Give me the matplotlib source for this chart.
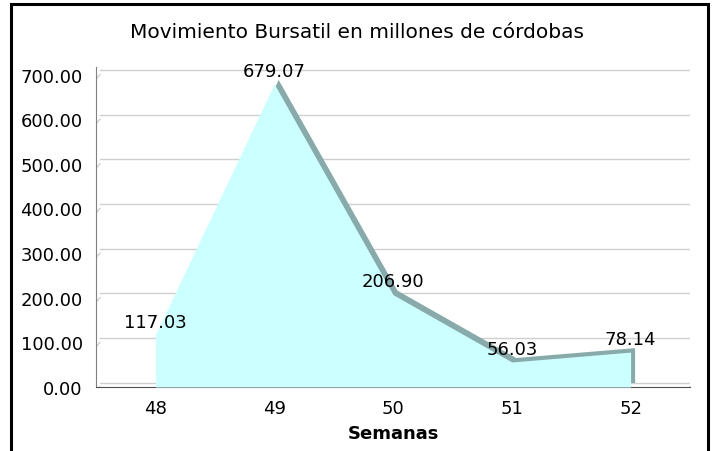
import numpy as np
import matplotlib.pyplot as plt
from matplotlib.transforms import offset_copy
from matplotlib.patches import Rectangle

# Data
semanas = [48, 49, 50, 51, 52]
valores = [117.03, 679.07, 206.90, 56.03, 78.14]
yticks = [0, 100, 200, 300, 400, 500, 600, 700]

plt.rcParams['font.family'] = ['DejaVu Sans']

fig = plt.figure(figsize=(7.13, 4.52), dpi=100)
ax = fig.add_axes([96/713, 1-388/452, 594/713, 320/452])
ax.set_xlim(47.5, 52.5)
ax.set_ylim(0, 717)

# depth offset for the 3D look (pixels)
dx, dy = 4, 4.5
back = offset_copy(ax.transData, fig=fig, x=dx, y=dy, units='dots')

# back wall gridlines + floor
for t in yticks:
    col = '#D0D0D0'
    ax.plot([47.5, 52.5], [t, t], color=col, lw=1, transform=back, zorder=1)
    ax.plot([47.5, 47.5 + 0.0336], [t - 10.1, t], color=col, lw=1, zorder=1)
# right end of floor
ax.plot([52.5, 52.5 + 0.0336], [0, 10.1], color='#505050', lw=0.8, zorder=1)

# area: top/side face (shifted) then front face
ax.fill_between(semanas, valores, 0, color='#88AAAA', lw=0, transform=back, zorder=2)
ax.fill_between(semanas, valores, 0, color='#CCFFFF', lw=0, zorder=3)

for x, v in zip(semanas, valores):
    ax.annotate(f'{v:.2f}', (x, v), xytext=(0, 9.5), textcoords='offset points',
                ha='center', va='center', fontsize=13, zorder=5)

ax.set_xticks(semanas)
ax.set_xticklabels([str(s) for s in semanas])
ax.set_yticks(yticks)
ax.set_yticklabels([f'{t:.2f}' for t in yticks])
ax.tick_params(length=0, labelsize=13)
ax.tick_params(axis='y', pad=9.5)
ax.tick_params(axis='x', pad=9)
for s in ['top', 'right']:
    ax.spines[s].set_visible(False)
ax.spines['left'].set_color('#808080')
ax.spines['bottom'].set_color('#505050')
ax.patch.set_visible(False)

fig.text(0.5, 1-33/452, 'Movimiento Bursatil en millones de córdobas',
         ha='center', va='center', fontsize=14.5)
fig.text(393/713, 1-434/452, 'Semanas', ha='center', va='center',
         fontsize=13, fontweight='bold')

# outer frame
fig.patches.append(Rectangle((10.5/713, -0.05), 697/713, 1.05 - 4.5/452,
                             transform=fig.transFigure, fill=False,
                             edgecolor='black', lw=2.2))

fig.savefig('out.png', dpi=100)
